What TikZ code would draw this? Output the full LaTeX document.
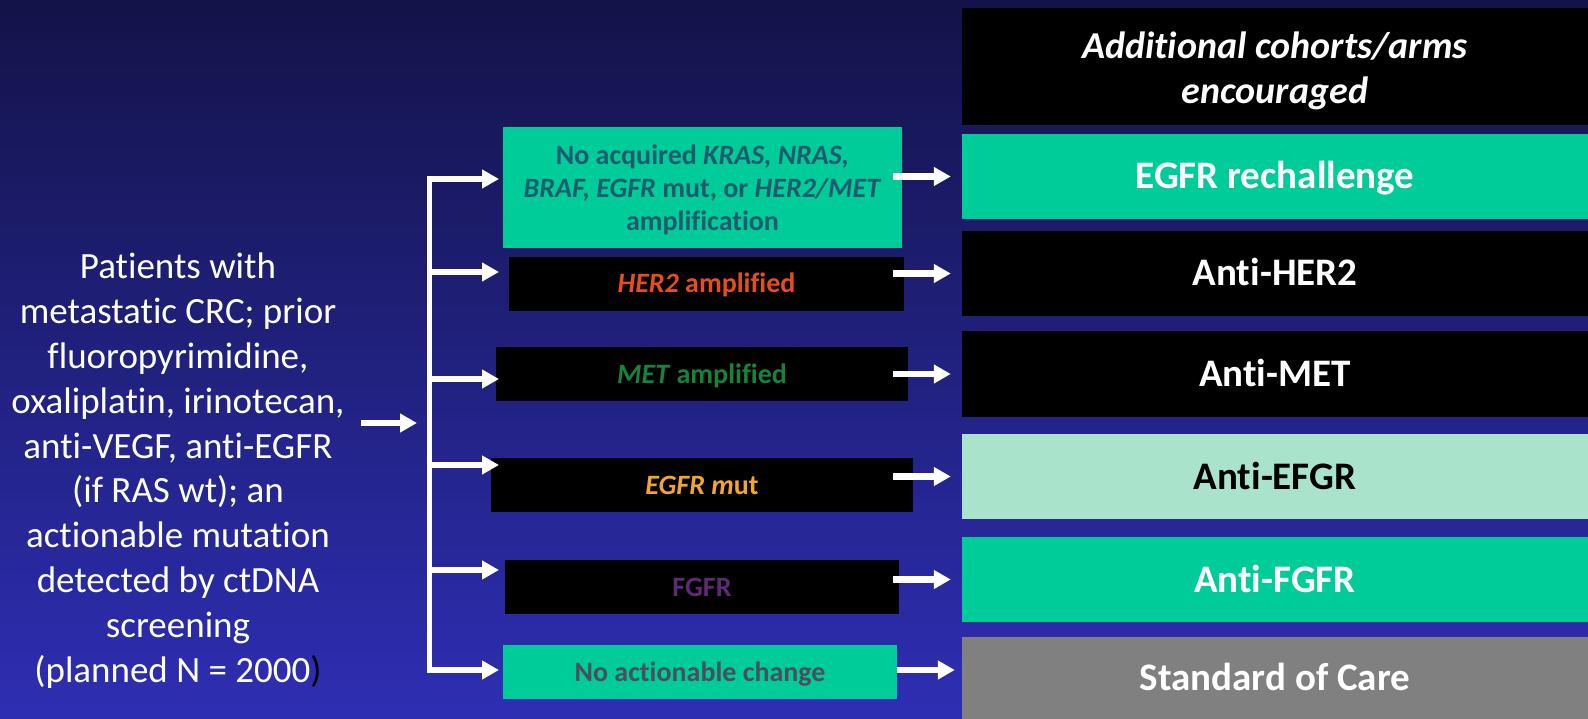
\documentclass[tikz,border=0pt]{standalone}
\usepackage{fontspec}
\setmainfont{Carlito}[Ligatures=NoCommon]
\usetikzlibrary{arrows.meta}
\definecolor{bgtop}{HTML}{131349}
\definecolor{bgbot}{HTML}{2E2EB4}
\definecolor{mgreen}{HTML}{00CC99}
\definecolor{mint}{HTML}{A9E3CB}
\definecolor{sgray}{HTML}{808080}
\definecolor{tealtxt}{HTML}{1F5B6E}
\definecolor{hertxt}{HTML}{E84E1B}
\definecolor{mettxt}{HTML}{14843C}
\definecolor{egfrtxt}{HTML}{F3A62F}
\definecolor{fgfrtxt}{HTML}{5E2A72}
\definecolor{noacttxt}{HTML}{4A4E5E}
\begin{document}
\begin{tikzpicture}[x=1pt,y=-1pt,
  rbox/.style={rectangle, inner sep=0pt, minimum width=626pt},
  rlab/.style={font=\bfseries\fontsize{39}{47}\selectfont, text=white, text height=25pt, text depth=0pt},
  mbox/.style={rectangle, inner sep=0pt, font=\bfseries\fontsize{28}{34}\selectfont, text height=18pt, text depth=0pt, minimum height=54pt},
  arr/.style={draw=white, line width=6.5pt, -{Triangle[length=17pt,width=18pt]}},
  bus/.style={draw=white, line width=5pt, line cap=rect}]
\shade[top color=bgtop, bottom color=bgbot] (0,0) rectangle (1588,719);
\useasboundingbox (0,0) rectangle (1588,719);

% right column
\node[rbox, fill=black, minimum height=117pt] (r0) at (1275,66.5) {};
\node[align=center, inner sep=0pt, text=white, font=\bfseries\itshape\fontsize{38}{45}\selectfont] (r0t) at (1275,71) {Additional cohorts/arms\\encouraged};
\node[rbox, rlab, fill=mgreen, minimum height=85pt] (r1) at (1275,176.5) {EGFR rechallenge};
\node[rbox, rlab, fill=black, minimum height=85pt] (r2) at (1275,273.5) {Anti-HER2};
\node[rbox, rlab, fill=black, minimum height=86pt] (r3) at (1275,374) {Anti-MET};
\node[rbox, rlab, fill=mint, minimum height=85pt, text=black] (r4) at (1275,476.5) {Anti-EFGR};
\node[rbox, rlab, fill=mgreen, minimum height=85pt] (r5) at (1275,579.5) {Anti-FGFR};
\node[rbox, rlab, fill=sgray, minimum height=82pt] (r6) at (1275,678) {Standard of Care};

% middle column
\node[rectangle, inner sep=0pt, fill=mgreen, minimum width=399pt, minimum height=121pt] (m1) at (702.5,187.5) {};
\node[align=center, inner sep=0pt, text=tealtxt, font=\bfseries\fontsize{28}{33}\selectfont] (m1t) at (702.5,189.5) {No acquired \textit{KRAS, NRAS,}\\\textit{BRAF, EGFR} mut, or \textit{HER2/MET}\\amplification};
\node[mbox, fill=black, minimum width=395pt, text=hertxt] (m2) at (706.5,284) {\textit{HER2} amplified};
\node[mbox, fill=black, minimum width=412pt, text=mettxt] (m3) at (702,374) {\textit{MET} amplified};
\node[mbox, fill=black, minimum width=422pt, text=egfrtxt] (m4) at (702,485) {\textit{EGFR m}ut};
\node[mbox, fill=black, minimum width=394pt, text=fgfrtxt] (m5) at (702,587) {FGFR};
\node[mbox, fill=mgreen, minimum width=394pt, text=noacttxt] (m6) at (700,672) {No actionable change};

% left text
\node[align=center, anchor=north, inner sep=0pt, text=white, font=\fontsize{37}{44.8}\selectfont] (pt) at (178,253) {Patients with\\metastatic CRC; prior\\fluoropyrimidine,\\oxaliplatin, irinotecan,\\anti-VEGF, anti-EGFR\\(if RAS wt); an\\actionable mutation\\detected by ctDNA\\screening\\(planned N = 2000\textcolor{black}{)}};

% bus and branch coordinates
\coordinate (ins) at (361,423);
\coordinate (bus) at (429,423);
\coordinate (b1) at (429,179);
\coordinate (b2) at (429,272);
\coordinate (b3) at (429,379);
\coordinate (b4) at (429,465);
\coordinate (b5) at (429,570);
\coordinate (b6) at (429,670);
\coordinate (tx) at (499,0);
\coordinate (ax) at (893,0);

\draw[arr] (ins) -- ([xshift=-12pt]bus);
\draw[bus] (b1) -- (b6);
\foreach \i in {1,...,6}{
  \draw[arr] ([xshift=-2.5pt]b\i) -- (tx |- b\i);
}

% arrows to right column
\draw[arr] (ax |- r1.west) -- ([xshift=-11pt]r1.west);
\draw[arr] (ax |- r2.west) -- ([xshift=-11pt]r2.west);
\draw[arr] (ax |- r3.west) -- ([xshift=-11pt]r3.west);
\draw[arr] (ax |- r4.west) -- ([xshift=-11pt]r4.west);
\draw[arr] (ax |- r5.west) -- ([xshift=-11pt]r5.west);
\draw[arr] ([xshift=4pt,yshift=8pt]ax |- r6.west) -- ([xshift=-7pt,yshift=8pt]r6.west);
\end{tikzpicture}
\end{document}
